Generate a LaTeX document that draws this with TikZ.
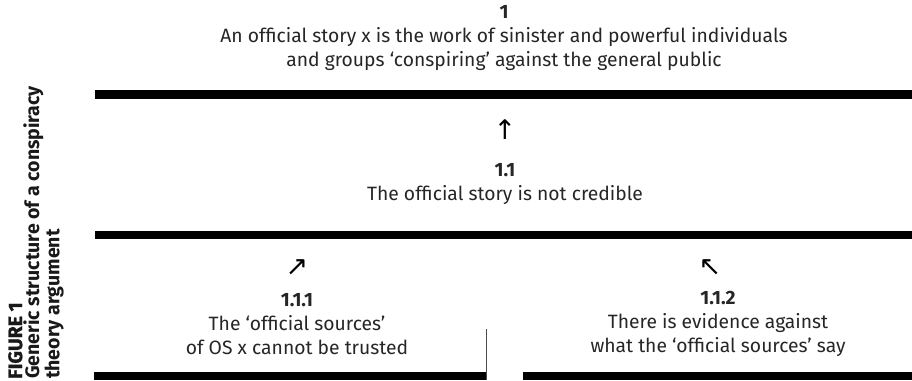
\documentclass[tikz,border=0pt]{standalone}
\usepackage{fontspec}
\setmainfont{Fira Sans}
\newfontfamily\arrowfont{DejaVu Sans}
\newfontfamily\heavyfont{Fira Sans}[BoldFeatures={FakeBold=1.2}]
\begin{document}
\begin{tikzpicture}[x=1pt,y=-1pt,
  bar/.style={line width=8.5pt},
  claim/.style={align=center,font=\fontsize{19.3}{24}\selectfont,text=black!85,inner sep=0pt},
  arr/.style={font=\arrowfont\fontsize{27}{28}\selectfont,inner sep=0pt,text=black},
  side/.style={align=left,rotate=90,inner sep=0pt,font=\fontsize{19.5}{15.5}\selectfont\bfseries,text=black!90}]
\useasboundingbox (0,0) rectangle (912,380);
% bars
\coordinate (b1l) at (95,94.5); \coordinate (b1r) at (912,94.5);
\coordinate (b2l) at (95,235); \coordinate (b2r) at (912,235);
\coordinate (b3l) at (94,376); \coordinate (b3m) at (486,376);
\coordinate (b3n) at (523,376); \coordinate (b3r) at (912,376);
\coordinate (vt) at (486,329); \coordinate (vb) at (486,380);
\draw[bar] (b1l) -- (b1r);
\draw[bar] (b2l) -- (b2r);
\draw[bar] (b3l) -- (b3m);
\draw[bar] (b3n) -- (b3r);
\draw[black!70,line width=1pt] (vt) -- (vb);
% claims
\node[claim] (c1) at (504,38) {\textbf{1}\\An official story x is the work of sinister and powerful individuals\\and groups ‘conspiring’ against the general public};
\node[arr] (a1) at (505,130) {↑};
\node[claim] (c11) at (505,184) {\textbf{1.1}\\The official story is not credible};
\node[arr] (a111) at (297,268) {↗};
\node[claim] (c111) at (297,324) {\textbf{1.1.1}\\The ‘official sources’\\of OS x cannot be trusted};
\node[arr] (a112) at (710,268) {↖};
\node[claim] (c112) at (718,324) {\textbf{1.1.2}\\There is evidence against\\what the ‘official sources’ say};
% side caption
\node[side,anchor=north west] (cap) at (8,379) {{\heavyfont\bfseries\fontsize{19.5}{15.5}\selectfont FIGURE 1}\\Generic structure of a conspiracy\\theory argument};
\end{tikzpicture}
\end{document}
